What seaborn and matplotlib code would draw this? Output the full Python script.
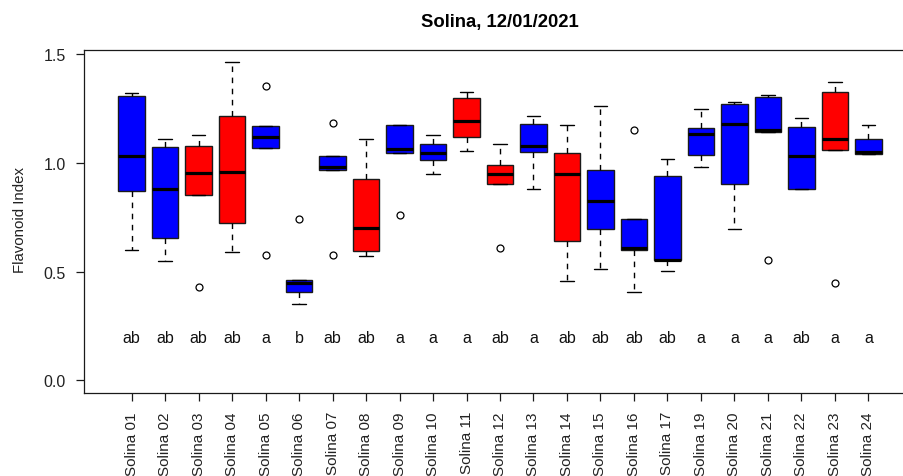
import numpy as np
import pandas as pd
import matplotlib
matplotlib.use("Agg")
import matplotlib.pyplot as plt
import seaborn as sns

# ---------------- data ----------------
labels = ["Solina 01", "Solina 02", "Solina 03", "Solina 04", "Solina 05", "Solina 06",
          "Solina 07", "Solina 08", "Solina 09", "Solina 10", "Solina 11", "Solina 12",
          "Solina 13", "Solina 14", "Solina 15", "Solina 16", "Solina 17", "Solina 19",
          "Solina 20", "Solina 21", "Solina 22", "Solina 23", "Solina 24"]
box_colors = ["blue", "blue", "red", "red", "blue", "blue", "blue", "red", "blue", "blue",
              "red", "red", "blue", "red", "blue", "blue", "blue", "blue", "blue", "blue",
              "blue", "red", "blue"]
whisk_lo = [0.601, 0.550, 0.851, 0.590, 1.067, 0.349, 0.967, 0.571, 1.044, 0.951, 1.056, 0.902,
            0.879, 0.455, 0.510, 0.406, 0.501, 0.981, 0.695, 1.142, 0.882, 1.061, 1.042]
q1 = [0.870, 0.655, 0.851, 0.724, 1.067, 0.406, 0.967, 0.596, 1.044, 1.012, 1.119, 0.902,
      1.051, 0.640, 0.695, 0.600, 0.551, 1.038, 0.905, 1.142, 0.882, 1.061, 1.042]
median = [1.030, 0.879, 0.954, 0.960, 1.119, 0.447, 0.983, 0.700, 1.062, 1.044, 1.191, 0.949,
          1.079, 0.949, 0.825, 0.608, 0.554, 1.131, 1.177, 1.150, 1.030, 1.110, 1.049]
q3 = [1.306, 1.074, 1.079, 1.217, 1.168, 0.461, 1.030, 0.926, 1.174, 1.088, 1.297, 0.989,
      1.180, 1.044, 0.967, 0.741, 0.938, 1.159, 1.270, 1.301, 1.163, 1.324, 1.111]
whisk_hi = [1.321, 1.111, 1.128, 1.462, 1.168, 0.461, 1.030, 1.111, 1.176, 1.128, 1.324, 1.088,
            1.217, 1.173, 1.261, 0.741, 1.016, 1.247, 1.278, 1.310, 1.208, 1.373, 1.173]
outliers = [[], [], [0.429], [], [0.576, 1.352], [0.741], [0.576, 1.182], [], [0.759], [], [],
            [0.608], [], [], [], [1.151], [], [], [], [0.554], [], [0.447], []]
letters = ["ab", "ab", "ab", "ab", "a", "b", "ab", "ab", "a", "a", "a", "ab", "a", "ab", "ab",
           "ab", "ab", "a", "a", "a", "ab", "a", "a"]
title = "Solina, 12/01/2021"
ylabel = "Flavonoid Index"
yticks = [0.0, 0.5, 1.0, 1.5]
ytick_labels = ["0.0", "0.5", "1.0", "1.5"]


# Build a long table whose box statistics reproduce the read five-number summaries
def group_points(wl, a, m, b, wh, outs):
    lo = sorted(v for v in outs if v < a)
    hi = sorted(v for v in outs if v > b)
    k = max(len(lo), len(hi)) + 1
    pts = list(lo) + [wl] * (k - len(lo)) + [a] * k + [m] * k + [b] * k \
        + [wh] * (k - len(hi)) + list(hi)
    return pts


rows = []
for i, lab in enumerate(labels):
    for v in group_points(whisk_lo[i], q1[i], median[i], q3[i], whisk_hi[i], outliers[i]):
        rows.append({"site": lab, "value": v})
df = pd.DataFrame(rows)

# ---------------- figure ----------------
sns.set_style("white")
plt.rcParams["font.family"] = ["Liberation Sans", "DejaVu Sans"]

W, H = 904, 477
fig = plt.figure(figsize=(W / 100, H / 100), dpi=100)
ax_left, ax_right, ax_top, ax_bot = 84, 916, 50.7, 394
ax = fig.add_axes([ax_left / W, 1 - ax_bot / H, (ax_right - ax_left) / W, (ax_bot - ax_top) / H])

edge = "#1a1a1a"
sns.boxplot(data=df, x="site", y="value", hue="site", order=labels, hue_order=labels,
            palette=dict(zip(labels, box_colors)), legend=False, saturation=1,
            width=0.8, linecolor=edge, linewidth=1.0, ax=ax,
            whiskerprops=dict(linestyle=(0, (4, 4)), color="black", linewidth=1.0),
            capprops=dict(color="black", linewidth=1.0),
            medianprops=dict(color="black", linewidth=2.3),
            flierprops=dict(marker="o", markerfacecolor="none", markeredgecolor="black",
                            markersize=5, markeredgewidth=0.9))

for i, let in enumerate(letters):
    ax.text(i, 0.195, let, ha="center", va="center", fontsize=11.5, color="#111111")

ax.set_xlim(-1.42, len(labels) - 1 + 1.42)
ax.set_ylim(-0.0585, 1.5205)
ax.set_yticks(yticks)
ax.set_yticklabels(ytick_labels)
ax.set_xticks(range(len(labels)))
ax.set_xticklabels(labels, rotation=90, va="top", ha="center")
ax.set_xlabel("")
ax.set_ylabel("")
ax.tick_params(axis="both", direction="out", length=6, width=0.9, color=edge,
               labelsize=11.5, labelcolor="#222222", left=True, bottom=True)
ax.tick_params(axis="x", pad=7, labelsize=11)
ax.tick_params(axis="y", pad=7)
for s in ax.spines.values():
    s.set_visible(True)
    s.set_color(edge)
    s.set_linewidth(0.9)

fig.text(500 / W, 1 - 23 / H, title, ha="center", va="center", fontsize=13.3,
         fontweight="bold", color="black")
fig.text(20 / W, 1 - 220 / H, ylabel, ha="center", va="center", rotation=90,
         fontsize=10.8, color="#222222")

fig.savefig("out.png", dpi=100)
